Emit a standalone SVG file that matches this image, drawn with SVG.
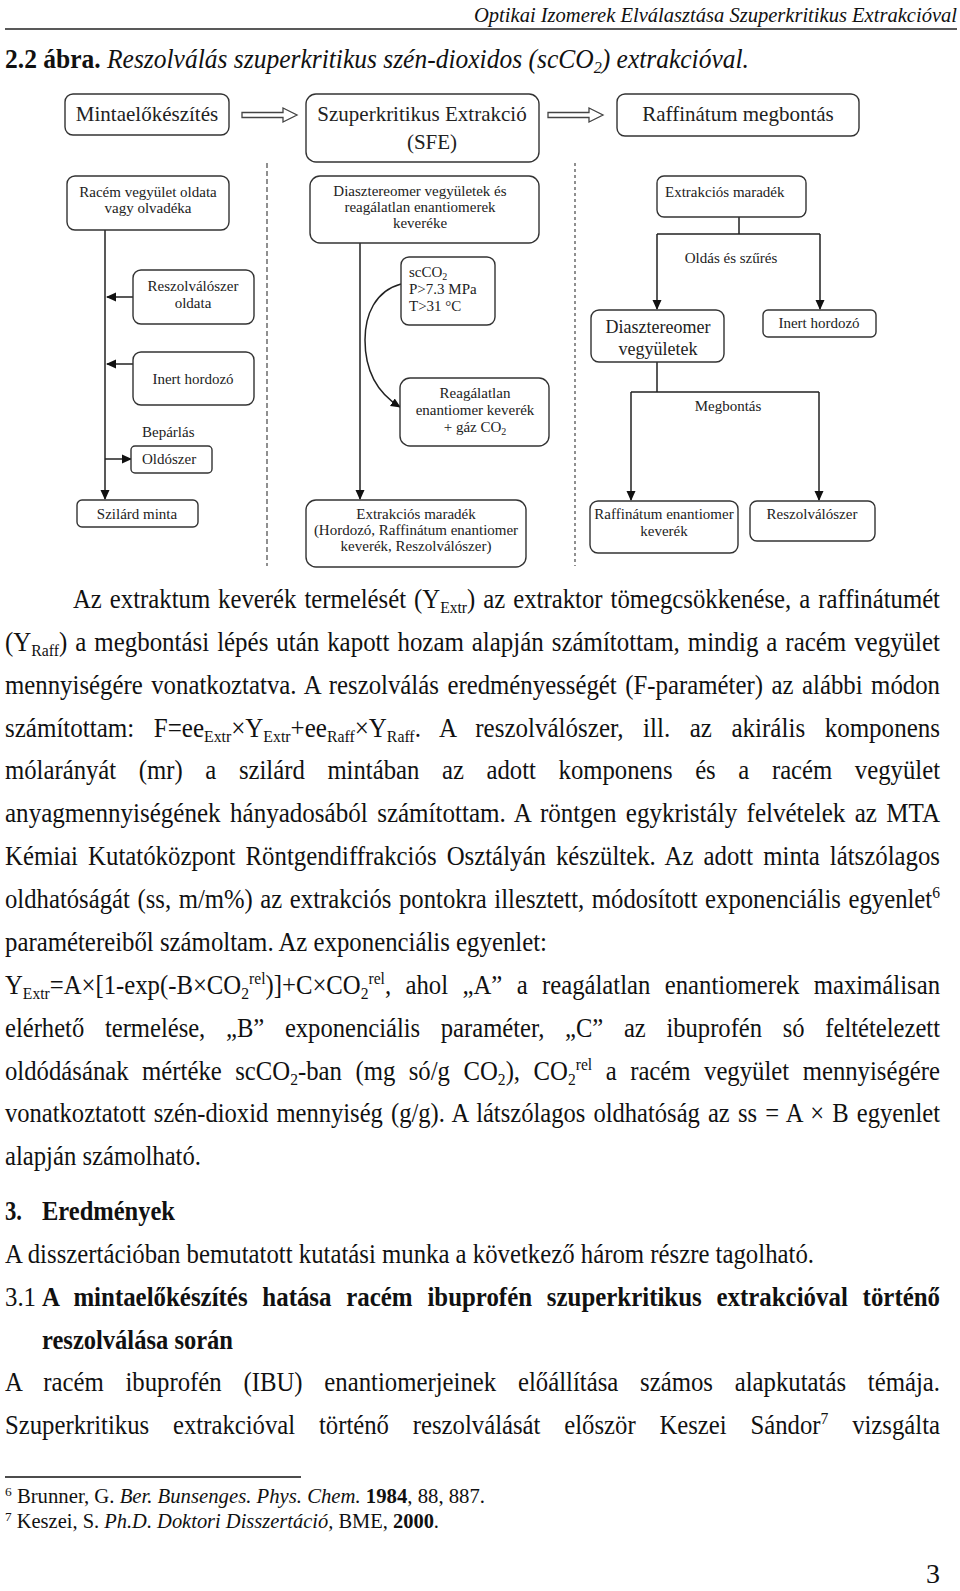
<svg xmlns="http://www.w3.org/2000/svg" width="960" height="1591" viewBox="0 0 960 1591">
<style>
.t{font-family:"Liberation Serif","Times New Roman",serif;font-size:24.7px;fill:#111}
.f{font-family:"Liberation Serif","Times New Roman",serif;font-size:20px;fill:#111}
.b{font-weight:bold}
.i{font-style:italic}
.s{font-size:15.6px}
.fs{font-size:13px}
.d{font-family:"Liberation Serif","Times New Roman",serif;font-size:15px;fill:#222}
.dl{font-size:21px}
.dm{font-size:18px}
.m{text-anchor:middle}
.box{fill:#fff;stroke:#333;stroke-width:1.4}
.ln{fill:none;stroke:#222;stroke-width:1.5}
.hol{fill:#fff;stroke:#444;stroke-width:1.3}
.dash{fill:none;stroke:#555;stroke-width:1.3}
</style>
<defs>
<marker id="ah" markerWidth="10" markerHeight="10" refX="9" refY="5" orient="auto" markerUnits="userSpaceOnUse"><path d="M0,0.5 L10,5 L0,9.5 z" fill="#111"/></marker>
</defs>
<rect width="960" height="1591" fill="#fff"/>

<g id="header">
<text class="t i" transform="translate(474,22) scale(1,1.073)" style="font-size:20.5px" textLength="483" lengthAdjust="spacingAndGlyphs">Optikai Izomerek Elválasztása Szuperkritikus Extrakcióval</text>
<line x1="5" y1="29" x2="957" y2="29" stroke="#222" stroke-width="1.5"/>
<text class="t" transform="translate(5,68) scale(1,1.093)" textLength="744" lengthAdjust="spacingAndGlyphs"><tspan class="b">2.2 ábra.</tspan><tspan class="i"> Reszolválás szuperkritikus szén-dioxidos (scCO</tspan><tspan class="i s" dy="4.6">2</tspan><tspan class="i" dy="-4.6">) extrakcióval.</tspan></text>
</g>

<g id="connectors">
<polygon class="hol" points="242,112.5 283,112.5 283,108 297,115 283,122 283,117.5 242,117.5"/>
<polygon class="hol" points="548,112.5 589,112.5 589,108 603,115 589,122 589,117.5 548,117.5"/>
<line class="dash" x1="267" y1="163" x2="267" y2="566" stroke-dasharray="5 3"/>
<line class="dash" x1="575" y1="163" x2="575" y2="566" stroke-dasharray="3 3"/>
<line class="ln" x1="105" y1="230" x2="105" y2="499" marker-end="url(#ah)"/>
<line class="ln" x1="133" y1="297" x2="107" y2="297" marker-end="url(#ah)"/>
<line class="ln" x1="133" y1="364" x2="107" y2="364" marker-end="url(#ah)"/>
<line class="ln" x1="105" y1="459" x2="131" y2="459" marker-end="url(#ah)"/>
<line class="ln" x1="360" y1="243" x2="360" y2="499" marker-end="url(#ah)"/>
<path class="ln" d="M401,284 C375,291 365,315 365,340 C365,372 379,394 400,407" marker-end="url(#ah)"/>
<path class="ln" d="M739,217 V234 M657,234 H820"/>
<line class="ln" x1="657" y1="234" x2="657" y2="309" marker-end="url(#ah)"/>
<line class="ln" x1="820" y1="234" x2="820" y2="309" marker-end="url(#ah)"/>
<path class="ln" d="M657,362 V392 M631,392 H819"/>
<line class="ln" x1="631" y1="392" x2="631" y2="500" marker-end="url(#ah)"/>
<line class="ln" x1="819" y1="392" x2="819" y2="500" marker-end="url(#ah)"/>
</g>

<g id="n-minta"><rect class="box" x="65" y="94" width="164" height="41" rx="8"/><text class="d dl m" x="147" y="121">Mintaelőkészítés</text></g>
<g id="n-sfe"><rect class="box" x="306" y="94" width="233" height="68" rx="10"/><text class="d dl m" x="422" y="121">Szuperkritikus Extrakció</text><text class="d dl m" x="432" y="149">(SFE)</text></g>
<g id="n-raff"><rect class="box" x="617" y="94" width="242" height="42" rx="8"/><text class="d dl m" x="738" y="121">Raffinátum megbontás</text></g>

<g id="n-racem"><rect class="box" x="67" y="176" width="162" height="54" rx="8"/><text class="d m" x="148" y="197">Racém vegyület oldata</text><text class="d m" x="148" y="213">vagy olvadéka</text></g>
<g id="n-reszol"><rect class="box" x="133" y="270" width="121" height="54" rx="8"/><text class="d m" x="193" y="291">Reszolválószer</text><text class="d m" x="193" y="308">oldata</text></g>
<g id="n-inert1"><rect class="box" x="133" y="352" width="121" height="53" rx="8"/><text class="d m" x="193" y="384">Inert hordozó</text></g>
<g id="n-oldoszer"><text class="d" x="142" y="437">Bepárlás</text><rect class="box" x="131" y="446" width="81" height="27" rx="4"/><text class="d" x="142" y="464">Oldószer</text></g>
<g id="n-szilard"><rect class="box" x="77" y="500" width="121" height="27" rx="5"/><text class="d m" x="137" y="519">Szilárd minta</text></g>

<g id="n-diaszt"><rect class="box" x="310" y="176" width="229" height="67" rx="10"/><text class="d m" x="420" y="196">Diasztereomer vegyületek és</text><text class="d m" x="420" y="212">reagálatlan enantiomerek</text><text class="d m" x="420" y="228">keveréke</text></g>
<g id="n-scco2"><rect class="box" x="401" y="257" width="94" height="68" rx="8"/><text class="d" x="409" y="277">scCO<tspan font-size="10" dy="3">2</tspan></text><text class="d" x="409" y="294">P&gt;7.3 MPa</text><text class="d" x="409" y="311">T&gt;31 °C</text></g>
<g id="n-reag"><rect class="box" x="400" y="378" width="149" height="68" rx="10"/><text class="d m" x="475" y="398">Reagálatlan</text><text class="d m" x="475" y="415">enantiomer keverék</text><text class="d m" x="475" y="432">+ gáz CO<tspan font-size="10" dy="3">2</tspan></text></g>
<g id="n-extrm"><rect class="box" x="306" y="500" width="220" height="67" rx="10"/><text class="d m" x="416" y="519">Extrakciós maradék</text><text class="d m" x="416" y="535">(Hordozó, Raffinátum enantiomer</text><text class="d m" x="416" y="551">keverék, Reszolválószer)</text></g>

<g id="n-extrr"><rect class="box" x="657" y="176" width="149" height="41" rx="7"/><text class="d" x="665" y="197">Extrakciós maradék</text></g>
<g id="l-oldas"><text class="d m" x="731" y="263">Oldás és szűrés</text></g>
<g id="n-diasztr"><rect class="box" x="591" y="310" width="133" height="52" rx="8"/><text class="d dm m" x="658" y="333">Diasztereomer</text><text class="d dm m" x="658" y="355">vegyületek</text></g>
<g id="n-inert2"><rect class="box" x="763" y="310" width="113" height="27" rx="5"/><text class="d m" x="819" y="328">Inert hordozó</text></g>
<g id="l-megb"><text class="d m" x="728" y="411">Megbontás</text></g>
<g id="n-raffen"><rect class="box" x="590" y="501" width="148" height="52" rx="8"/><text class="d m" x="664" y="519">Raffinátum enantiomer</text><text class="d m" x="664" y="536">keverék</text></g>
<g id="n-reszolr"><rect class="box" x="750" y="501" width="125" height="40" rx="7"/><text class="d m" x="812" y="519">Reszolválószer</text></g>

<g id="body">
<text class="t" transform="translate(73,608) scale(1,1.093)" textLength="867" lengthAdjust="spacingAndGlyphs" word-spacing="1.8">Az extraktum keverék termelését (Y<tspan class="s" dy="4.6">Extr</tspan><tspan dy="-4.6">) az extraktor tömegcsökkenése, a raffinátumét</tspan></text>
<text class="t" transform="translate(5,651) scale(1,1.093)" textLength="935" lengthAdjust="spacingAndGlyphs" word-spacing="1.7">(Y<tspan class="s" dy="4.6">Raff</tspan><tspan dy="-4.6">) a megbontási lépés után kapott hozam alapján számítottam, mindig a racém vegyület</tspan></text>
<text class="t" transform="translate(5,694) scale(1,1.093)" textLength="935" lengthAdjust="spacingAndGlyphs" word-spacing="2.3">mennyiségére vonatkoztatva. A reszolválás eredményességét (F-paraméter) az alábbi módon</text>
<text class="t" transform="translate(5,737) scale(1,1.093)" textLength="935" lengthAdjust="spacingAndGlyphs" word-spacing="13.1">számítottam: F=ee<tspan class="s" dy="4.6">Extr</tspan><tspan dy="-4.6">×Y</tspan><tspan class="s" dy="4.6">Extr</tspan><tspan dy="-4.6">+ee</tspan><tspan class="s" dy="4.6">Raff</tspan><tspan dy="-4.6">×Y</tspan><tspan class="s" dy="4.6">Raff</tspan><tspan dy="-4.6">. A reszolválószer, ill. az akirális komponens</tspan></text>
<text class="t" transform="translate(5,779) scale(1,1.093)" textLength="935" lengthAdjust="spacingAndGlyphs" word-spacing="16.4">mólarányát (mr) a szilárd mintában az adott komponens és a racém vegyület</text>
<text class="t" transform="translate(5,822) scale(1,1.093)" textLength="935" lengthAdjust="spacingAndGlyphs" word-spacing="3.1">anyagmennyiségének hányadosából számítottam. A röntgen egykristály felvételek az MTA</text>
<text class="t" transform="translate(5,865) scale(1,1.093)" textLength="935" lengthAdjust="spacingAndGlyphs" word-spacing="3.9">Kémiai Kutatóközpont Röntgendiffrakciós Osztályán készültek. Az adott minta látszólagos</text>
<text class="t" transform="translate(5,908) scale(1,1.093)" textLength="935" lengthAdjust="spacingAndGlyphs" word-spacing="1.4">oldhatóságát (ss, m/m%) az extrakciós pontokra illesztett, módosított exponenciális egyenlet<tspan class="s" dy="-9.2">6</tspan></text>
<text class="t" transform="translate(5,951) scale(1,1.093)" textLength="542" lengthAdjust="spacingAndGlyphs">paramétereiből számoltam. Az exponenciális egyenlet:</text>
<text class="t" transform="translate(5,994) scale(1,1.093)" textLength="935" lengthAdjust="spacingAndGlyphs" word-spacing="8.2">Y<tspan class="s" dy="4.6">Extr</tspan><tspan dy="-4.6">=A×[1-exp(-B×CO</tspan><tspan class="s" dy="4.6">2</tspan><tspan class="s" dy="-13.7">rel</tspan><tspan dy="9.1">)]+C×CO</tspan><tspan class="s" dy="4.6">2</tspan><tspan class="s" dy="-13.7">rel</tspan><tspan dy="9.1">, ahol „A” a reagálatlan enantiomerek maximálisan</tspan></text>
<text class="t" transform="translate(5,1037) scale(1,1.093)" textLength="935" lengthAdjust="spacingAndGlyphs" word-spacing="14.6">elérhető termelése, „B” exponenciális paraméter, „C” az ibuprofén só feltételezett</text>
<text class="t" transform="translate(5,1080) scale(1,1.093)" textLength="935" lengthAdjust="spacingAndGlyphs" word-spacing="7.3">oldódásának mértéke scCO<tspan class="s" dy="4.6">2</tspan><tspan dy="-4.6">-ban (mg só/g CO</tspan><tspan class="s" dy="4.6">2</tspan><tspan dy="-4.6">), CO</tspan><tspan class="s" dy="4.6">2</tspan><tspan class="s" dy="-13.7">rel</tspan><tspan dy="9.1"> a racém vegyület mennyiségére</tspan></text>
<text class="t" transform="translate(5,1122) scale(1,1.093)" textLength="935" lengthAdjust="spacingAndGlyphs" word-spacing="2.0">vonatkoztatott szén-dioxid mennyiség (g/g). A látszólagos oldhatóság az ss = A × B egyenlet</text>
<text class="t" transform="translate(5,1165) scale(1,1.093)" textLength="196" lengthAdjust="spacingAndGlyphs">alapján számolható.</text>
<text class="t b" transform="translate(5,1220) scale(1,1.093)" textLength="17" lengthAdjust="spacingAndGlyphs">3.</text>
<text class="t b" transform="translate(42,1220) scale(1,1.093)" textLength="133" lengthAdjust="spacingAndGlyphs">Eredmények</text>
<text class="t" transform="translate(5,1263) scale(1,1.093)" textLength="809" lengthAdjust="spacingAndGlyphs">A disszertációban bemutatott kutatási munka a következő három részre tagolható.</text>
<text class="t" transform="translate(5,1306) scale(1,1.093)" textLength="31" lengthAdjust="spacingAndGlyphs">3.1</text>
<text class="t b" transform="translate(42,1306) scale(1,1.093)" textLength="898" lengthAdjust="spacingAndGlyphs" word-spacing="8.5">A mintaelőkészítés hatása racém ibuprofén szuperkritikus extrakcióval történő</text>
<text class="t b" transform="translate(42,1349) scale(1,1.093)" textLength="191" lengthAdjust="spacingAndGlyphs">reszolválása során</text>
<text class="t" transform="translate(5,1391) scale(1,1.093)" textLength="935" lengthAdjust="spacingAndGlyphs" word-spacing="15.5">A racém ibuprofén (IBU) enantiomerjeinek előállítása számos alapkutatás témája.</text>
<text class="t" transform="translate(5,1434) scale(1,1.093)" textLength="935" lengthAdjust="spacingAndGlyphs" word-spacing="17.6">Szuperkritikus extrakcióval történő reszolválását először Keszei Sándor<tspan class="s" dy="-9.2">7</tspan><tspan dy="9.2"> vizsgálta</tspan></text>
</g>

<g id="footnotes">
<line x1="5" y1="1477" x2="301" y2="1477" stroke="#111" stroke-width="1.3"/>
<text class="f" x="5" y="1503" textLength="480" lengthAdjust="spacingAndGlyphs"><tspan class="fs" dy="-7">6</tspan><tspan dy="7"> Brunner, G. </tspan><tspan class="i">Ber. Bunsenges. Phys. Chem.</tspan><tspan> </tspan><tspan class="b">1984</tspan><tspan>, 88, 887.</tspan></text>
<text class="f" x="5" y="1528" textLength="434" lengthAdjust="spacingAndGlyphs"><tspan class="fs" dy="-7">7</tspan><tspan dy="7"> Keszei, S. </tspan><tspan class="i">Ph.D. Doktori Disszertáció,</tspan><tspan> BME, </tspan><tspan class="b">2000</tspan><tspan>.</tspan></text>
<text class="t" transform="translate(926,1583) scale(1,1.093)" textLength="14" lengthAdjust="spacingAndGlyphs">3</text>
</g>
</svg>
